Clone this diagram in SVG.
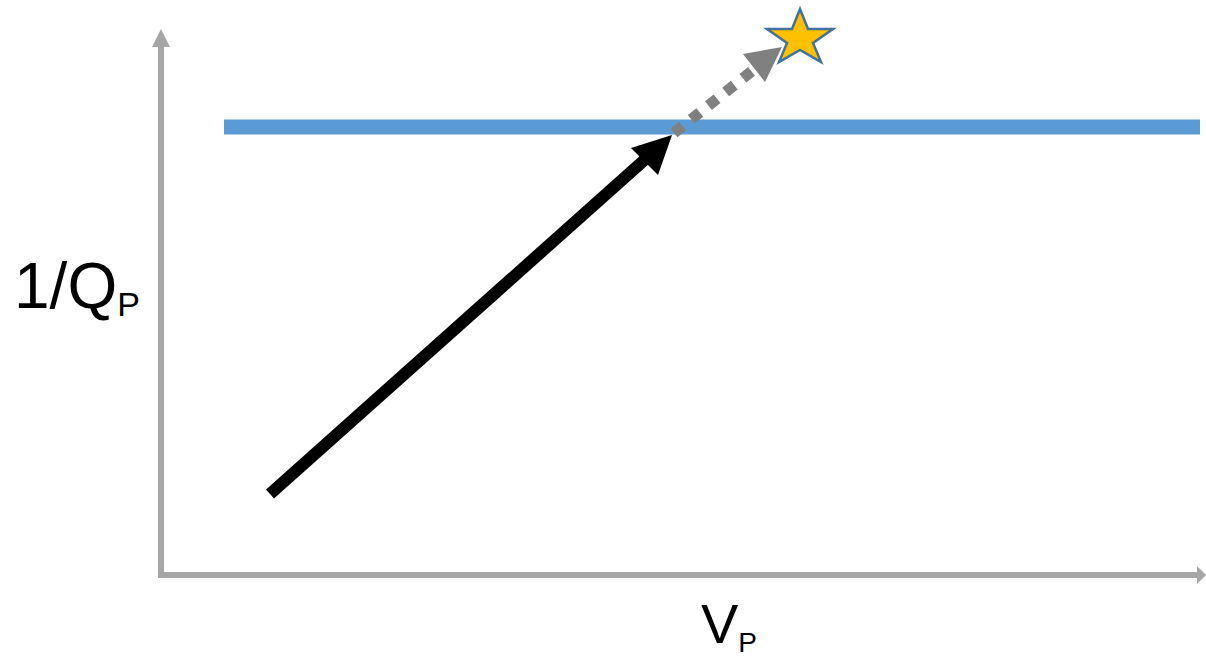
<svg xmlns="http://www.w3.org/2000/svg" width="1206" height="657" viewBox="0 0 1206 657">
<style>
.lbl{font-family:"Liberation Sans",Arial,sans-serif;fill:#000}
.axis{stroke:#A6A6A6;stroke-width:6;fill:none}
</style>
<rect width="1206" height="657" fill="#fff"/>
<g id="axes">
<line class="axis" x1="161" y1="578" x2="161" y2="45"/>
<polygon points="152,47 161,29 170,47" fill="#A6A6A6"/>
<line class="axis" x1="158" y1="575" x2="1199" y2="575"/>
<polygon points="1197,566 1206,575 1197,584" fill="#A6A6A6"/>
</g>
<g id="limit-line">
<line x1="224" y1="127" x2="1200" y2="127" stroke="#5B9BD5" stroke-width="15"/>
</g>
<g id="connectors">
<line x1="270" y1="494" x2="650" y2="155" stroke="#000" stroke-width="12"/>
<polygon points="672,135 631,148 658,175" fill="#000"/>
<line x1="674" y1="133" x2="752" y2="71" stroke="#808080" stroke-width="11" stroke-dasharray="11,11"/>
<polygon points="782,47 743,54 765,82" fill="#808080"/>
</g>
<g id="star">
<polygon points="800,9 808,29 833,29 813,43 821,62 800,50 779,62 787,43 767,29 792,29" fill="#FFC000" stroke="#41719C" stroke-width="2.5" stroke-linejoin="miter"/>
</g>
<g id="y-label">
<text class="lbl" x="14" y="308" font-size="64">1/Q<tspan font-size="34" dy="8">P</tspan></text>
</g>
<g id="x-label">
<text class="lbl" x="701" y="643" font-size="56">V<tspan font-size="28" dy="9">P</tspan></text>
</g>
</svg>
